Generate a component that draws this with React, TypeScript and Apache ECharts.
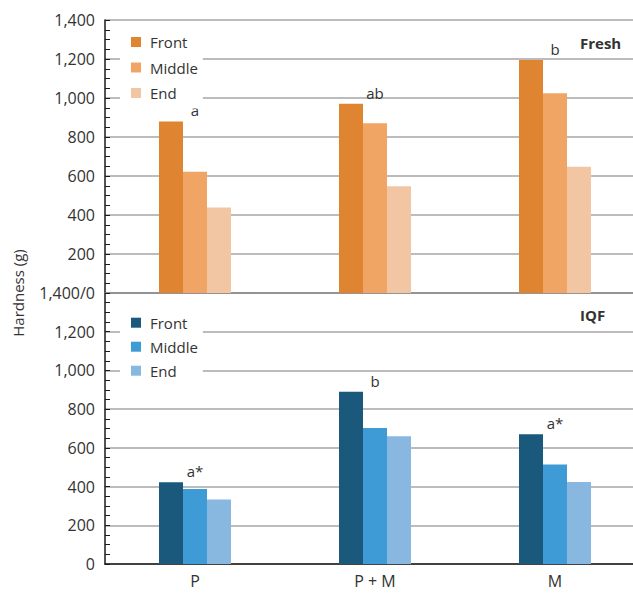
import React, { useEffect, useRef } from "react";
import * as echarts from "echarts";

const categories = ["P", "P + M", "M"];
const positions = ["Front", "Middle", "End"];

const freshFront = [880, 970, 1195];
const freshMiddle = [622, 870, 1025];
const freshEnd = [438, 548, 647];
const freshLetters = ["a", "ab", "b"];

const iqfFront = [422, 890, 670];
const iqfMiddle = [388, 702, 514];
const iqfEnd = [333, 660, 424];
const iqfLetters = ["a*", "b", "a*"];

const freshColors = ["#DF8430", "#F0A564", "#F2C6A2"];
const iqfColors = ["#1A587C", "#3F9BD6", "#88B8E0"];

const FONT = "'Open Sans', sans-serif";
const TEXT = "#333333";

const fmt = (v: number) => v.toLocaleString("en-US");

export default function App() {
  const ref = useRef<HTMLDivElement>(null);
  useEffect(() => {
    if (!ref.current) return;
    const chart = echarts.init(ref.current, undefined, { renderer: "svg" });

    const yAxisBase = (gridIndex: number, formatter: (v: number) => string) => ({
      type: "value",
      gridIndex,
      min: 0,
      max: 1400,
      interval: 200,
      axisLine: { show: true, lineStyle: { color: "#1a1a1a", width: 1.5 } },
      axisTick: { show: true, inside: true, length: 5, lineStyle: { color: "#1a1a1a", width: 1 } },
      minorTick: { show: true, splitNumber: 4, length: 5, lineStyle: { color: "#1a1a1a", width: 1 } },
      splitLine: { show: true, lineStyle: { color: "#A6A6A6", width: 1.5 } },
      axisLabel: { formatter, fontFamily: FONT, fontSize: 16, color: TEXT, margin: 10 },
    });

    const freshData = [freshFront, freshMiddle, freshEnd];
    const iqfData = [iqfFront, iqfMiddle, iqfEnd];

    const barSeries: any[] = [];
    positions.forEach((p, i) => {
      barSeries.push({
        name: "Fresh " + p,
        type: "bar",
        xAxisIndex: 0,
        yAxisIndex: 0,
        barWidth: 24,
        barGap: "0%",
        data: freshData[i],
        itemStyle: { color: freshColors[i] },
      });
    });
    positions.forEach((p, i) => {
      barSeries.push({
        name: "IQF " + p,
        type: "bar",
        xAxisIndex: 1,
        yAxisIndex: 1,
        barWidth: 24,
        barGap: "0%",
        data: iqfData[i],
        itemStyle: { color: iqfColors[i] },
      });
    });

    const letterSeries = (axis: number, values: number[], letters: string[]) => ({
      type: "scatter",
      xAxisIndex: axis,
      yAxisIndex: axis,
      symbolSize: 1,
      silent: true,
      itemStyle: { color: "rgba(0,0,0,0)", opacity: 1 },
      data: values,
      label: {
        show: true,
        position: "top",
        distance: 3,
        formatter: (p: any) => letters[p.dataIndex],
        fontFamily: FONT,
        fontSize: 15,
        color: TEXT,
        opacity: 1,
      },
    });

    const legendBase = (top: number, padTop: number, gap: number, names: string[]) => ({
      orient: "vertical",
      left: 120,
      top,
      padding: [padTop, 5, 8, 11],
      itemGap: gap,
      itemWidth: 10,
      itemHeight: 10,
      icon: "rect",
      backgroundColor: "#ffffff",
      data: names,
      selectedMode: false,
      formatter: (n: string) => n.split(" ")[1],
      textStyle: { fontFamily: FONT, fontSize: 15, color: TEXT, padding: [0, 0, 0, 4] },
    });

    chart.setOption({
      animation: false,
      backgroundColor: "#ffffff",
      grid: [
        { left: 105, top: 20, width: 540, height: 273 },
        { left: 105, top: 293, width: 540, height: 271 },
      ],
      xAxis: [
        {
          type: "category",
          gridIndex: 0,
          data: categories,
          axisLine: { show: true, lineStyle: { color: "#8c8c8c", width: 1.5 } },
          axisTick: { show: false },
          axisLabel: { show: false },
        },
        {
          type: "category",
          gridIndex: 1,
          data: categories,
          axisLine: { show: true, lineStyle: { color: "#1a1a1a", width: 1.5 } },
          axisTick: { show: false },
          axisLabel: { fontFamily: FONT, fontSize: 16, color: TEXT, margin: 9 },
        },
      ],
      yAxis: [
        yAxisBase(0, (v: number) => (v === 0 ? "1,400/0" : fmt(v))),
        yAxisBase(1, (v: number) => (v === 1400 ? "" : fmt(v))),
      ],
      legend: [
        legendBase(27, 7.5, 10.5, positions.map((p) => "Fresh " + p)),
        legendBase(308, 7.2, 9, positions.map((p) => "IQF " + p)),
      ],
      graphic: [
        {
          type: "text",
          x: 18,
          y: 293,
          rotation: Math.PI / 2,
          style: {
            text: "Hardness (g)",
            font: `15px ${FONT}`,
            fill: TEXT,
            align: "center",
            verticalAlign: "middle",
          },
        },
        {
          type: "text",
          x: 580,
          y: 43,
          style: {
            text: "Fresh",
            font: `bold 15px ${FONT}`,
            fill: TEXT,
            align: "left",
            verticalAlign: "middle",
          },
        },
        {
          type: "text",
          x: 580,
          y: 315,
          style: {
            text: "IQF",
            font: `bold 15px ${FONT}`,
            fill: TEXT,
            align: "left",
            verticalAlign: "middle",
          },
        },
      ],
      series: [
        ...barSeries,
        letterSeries(0, freshFront, freshLetters),
        letterSeries(1, iqfFront, iqfLetters),
      ],
    });

    return () => chart.dispose();
  }, []);

  return (
    <div
      style={{
        position: "fixed",
        left: 0,
        top: 0,
        width: 633,
        height: 594,
        overflow: "hidden",
        background: "#fff",
      }}
    >
      <div ref={ref} style={{ width: 660, height: 594 }} />
    </div>
  );
}
